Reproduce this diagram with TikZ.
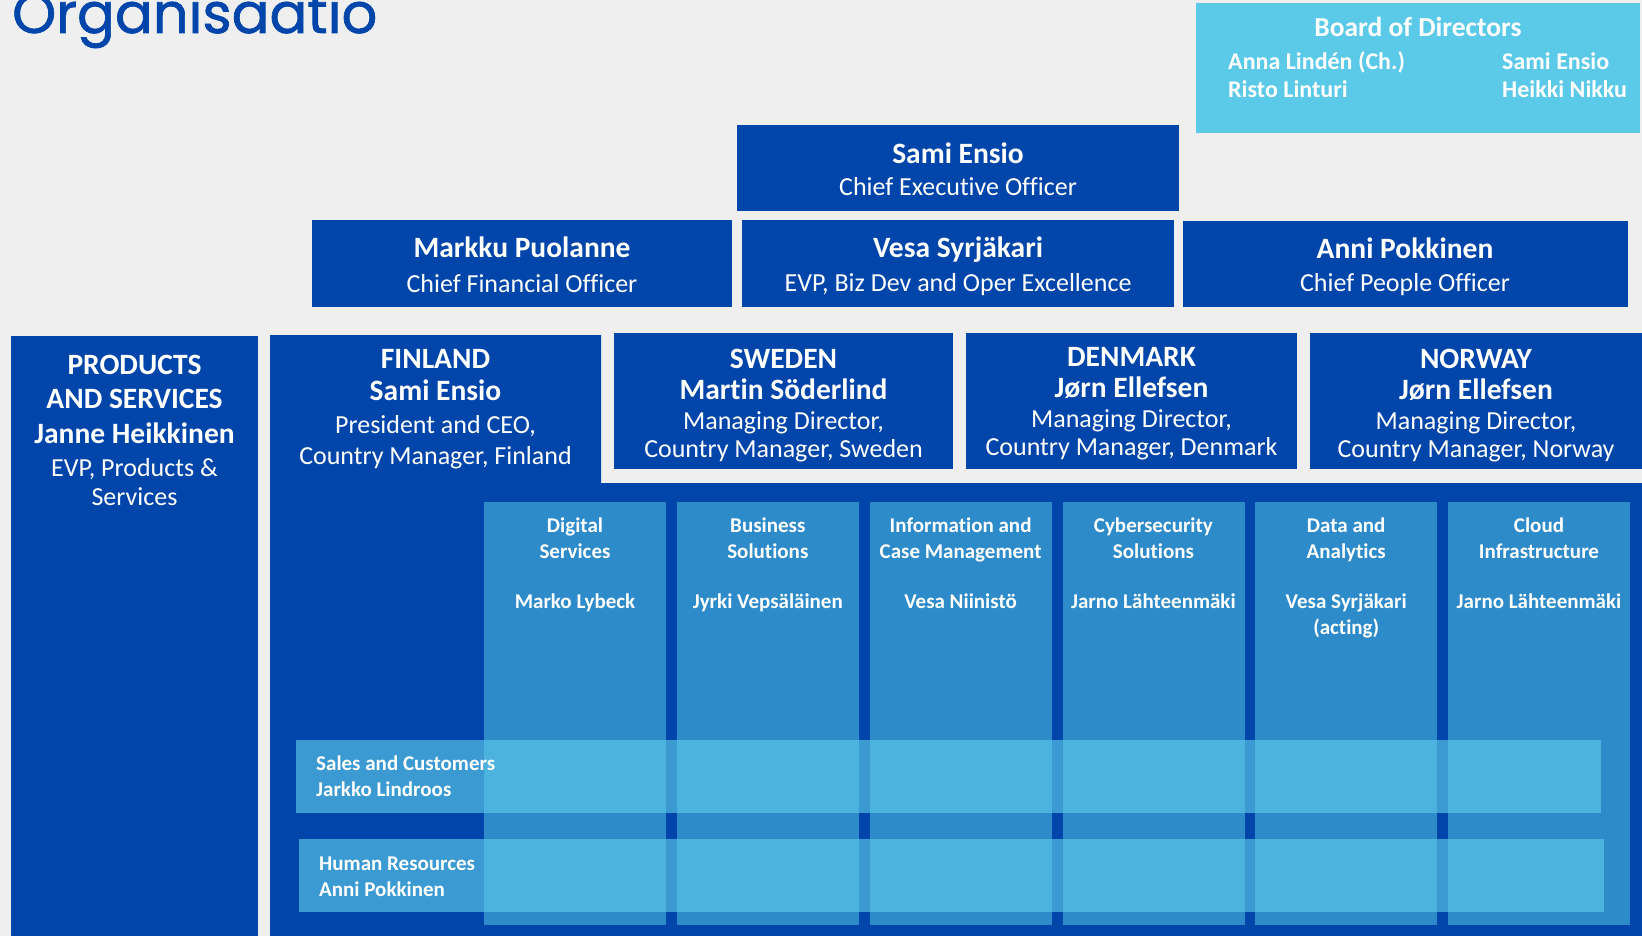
\documentclass[tikz,border=0pt]{standalone}
\usepackage{fontspec}
\setmainfont{Carlito}[Ligatures=NoCommon]
\newfontfamily\titlefont{Poppins}[FakeBold=1.2]
\usetikzlibrary{positioning}
\definecolor{orgblue}{RGB}{0,69,170}
\definecolor{colblue}{RGB}{46,139,202}
\definecolor{boardcyan}{RGB}{91,201,232}
\definecolor{bggray}{RGB}{239,239,239}
\tikzset{
  bluebox/.style={fill=orgblue, inner sep=0pt, anchor=north west},
  colbox/.style={fill=colblue, inner sep=0pt, anchor=north west, minimum width=182, minimum height=423},
  bandbox/.style={fill=boardcyan, fill opacity=0.65, inner sep=0pt, anchor=north west},
  boldtxt/.style={font=\fontsize{29.5}{31}\selectfont\bfseries, text=white, align=center, inner sep=0pt, anchor=base},
  roletxt/.style={font=\fontsize{26}{28}\selectfont, text=white, align=center, inner sep=0pt, anchor=base},
  coltxt/.style={font=\fontsize{21}{25.5}\selectfont\bfseries, text=white, align=center, inner sep=0pt, anchor=base},
  bandtxt/.style={font=\fontsize{21}{25.5}\selectfont\bfseries, text=white, align=left, inner sep=0pt, anchor=base west},
}
\begin{document}
\begin{tikzpicture}[x=1pt,y=-1pt]
\useasboundingbox (0,0) rectangle (1642,936);
\clip (0,0) rectangle (1642,936);
\fill[bggray] (0,0) rectangle (1642,936);
% Title (multi-line texts below sit on the baseline of their last line)
\node[text=orgblue, font=\titlefont\fontsize{56}{60}\selectfont, inner sep=0pt, anchor=base west] (title) at (12,33) {Organisaatio};
% Board
\node[bluebox, fill=boardcyan, minimum width=444, minimum height=130] (board) at (1196,3) {};
\node[boldtxt, font=\fontsize{27.5}{30}\selectfont\bfseries] (board-ttl) at (1418,37) {Board of Directors};
\node[bandtxt, font=\fontsize{24}{28}\selectfont\bfseries] (board-l) at (1228,98) {Anna Lindén (Ch.)\\Risto Linturi};
\node[bandtxt, font=\fontsize{24}{28}\selectfont\bfseries] (board-r) at (1502,98) {Sami Ensio\\Heikki Nikku};
% CEO
\node[bluebox, minimum width=442, minimum height=86] (ceo) at (737,125) {};
\node[boldtxt] (ceo-name) at (958,164) {Sami Ensio};
\node[roletxt] (ceo-role) at (958,196) {Chief Executive Officer};
% Management team
\node[bluebox, minimum width=420, minimum height=87] (cfo) at (312,220) {};
\node[boldtxt] (cfo-name) at (522,258) {Markku Puolanne};
\node[roletxt] (cfo-role) at (522,292) {Chief Financial Officer};
\node[bluebox, minimum width=432, minimum height=87] (evp) at (742,220) {};
\node[boldtxt] (evp-name) at (958,258) {Vesa Syrjäkari};
\node[roletxt] (evp-role) at (958,291) {EVP, Biz Dev and Oper Excellence};
\node[bluebox, minimum width=445, minimum height=86] (cpo) at (1183,221) {};
\node[boldtxt] (cpo-name) at (1405,259) {Anni Pokkinen};
\node[roletxt] (cpo-role) at (1405,291) {Chief People Officer};
% Products and services
\node[bluebox, minimum width=247, minimum height=600] (prod) at (11,336) {};
\node[boldtxt, font=\fontsize{29.5}{34.5}\selectfont\bfseries] (prod-name) at (134.5,443) {PRODUCTS\\AND SERVICES\\Janne Heikkinen};
\node[roletxt, font=\fontsize{26}{29}\selectfont] (prod-role) at (134.5,505) {EVP, Products \&\\Services};
% Finland (L-shaped, carries the units)
\fill[orgblue] (270,335) -- (601,335) -- (601,483) -- (1642,483) -- (1642,936) -- (270,936) -- cycle;
\node[boldtxt, font=\fontsize{29.5}{32}\selectfont\bfseries] (fin-name) at (435.5,400) {FINLAND\\Sami Ensio};
\node[roletxt, font=\fontsize{26}{31}\selectfont] (fin-role) at (435.5,464) {President and CEO,\\Country Manager, Finland};
% Other countries
\foreach \nm/\x/\w/\y/\cty/\who in {swe/614/339/399/SWEDEN/Martin Söderlind, den/966/331/397/DENMARK/Jørn Ellefsen, nor/1310/332/399/NORWAY/Jørn Ellefsen} {
  \node[bluebox, minimum width=\w, minimum height=136] (\nm) at (\x,333) {};
  \node[boldtxt] (\nm-name) at ({\x+\w/2},\y) {\cty\\\who};
}
\node[roletxt] (swe-role) at (783.5,457) {Managing Director,\\Country Manager, Sweden};
\node[roletxt] (den-role) at (1131.5,455) {Managing Director,\\Country Manager, Denmark};
\node[roletxt] (nor-role) at (1476,457) {Managing Director,\\Country Manager, Norway};
% Business units
\foreach \i/\ttl/\who/\wy in {0/{Digital\\Services}/{Marko Lybeck}/608, 1/{Business\\Solutions}/{Jyrki Vepsäläinen}/608, 2/{Information and\\Case Management}/{Vesa Niinistö}/608, 3/{Cybersecurity\\Solutions}/{Jarno Lähteenmäki}/608, 4/{Data and\\Analytics}/{Vesa Syrjäkari\\(acting)}/634, 5/{Cloud\\Infrastructure}/{Jarno Lähteenmäki}/608} {
  \node[colbox] (unit\i) at ({484+\i*192.8},502) {};
  \node[coltxt] (unit\i-ttl) at ({575+\i*192.8},558) {\ttl};
  \node[coltxt] (unit\i-who) at ({575+\i*192.8},\wy) {\who};
}
% Cross-functions
\node[bandbox, minimum width=1305, minimum height=73] (sales) at (296,740) {};
\node[bandbox, minimum width=1305, minimum height=73] (hr) at (299,839) {};
\node[bandtxt] (sales-txt) at (316,796) {Sales and Customers\\Jarkko Lindroos};
\node[bandtxt] (hr-txt) at (319,896) {Human Resources\\Anni Pokkinen};
\end{tikzpicture}
\end{document}
